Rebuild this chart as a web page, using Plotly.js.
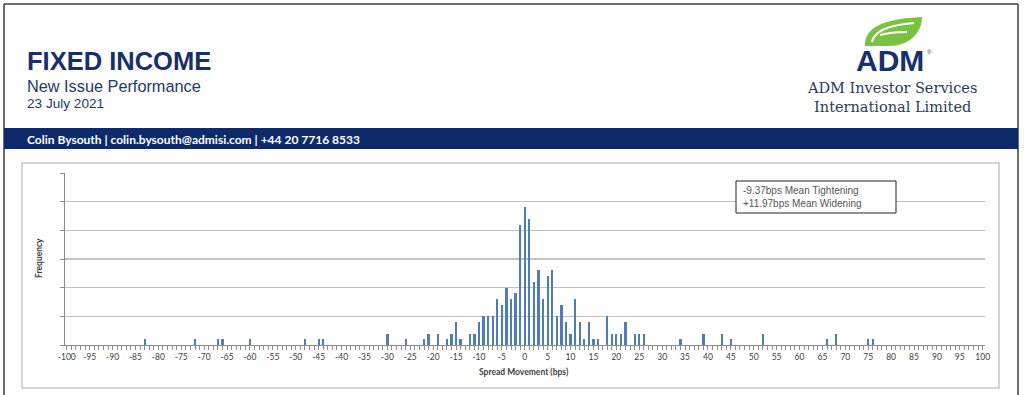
<!DOCTYPE html>
<html>
<head>
<meta charset="utf-8">
<script src="https://cdn.plot.ly/plotly-3.0.1.min.js"></script>
<style>
  html, body { margin: 0; padding: 0; background: #ffffff; }
  #chart { width: 1024px; height: 395px; }
</style>
</head>
<body>
<div id="chart"></div>
<script>
// ---- Data ----
const spreadBps = [-83, -72, -67, -66, -60, -48, -45, -44,
  -30, -26, -22, -21, -19, -17, -16, -15, -14,
  -12, -11, -10, -9, -8, -7, -6, -5, -4, -3, -2, -1,
  0, 1, 2, 3, 4, 5, 6, 7, 8, 9, 10,
  11, 12, 13, 14, 15, 16,
  18, 19, 20, 21, 22,
  24, 25, 26,
  34, 39, 43, 45, 52,
  66, 68, 75, 76];
const frequency = [1, 1, 1, 1, 1, 1, 1, 1,
  2, 1, 1, 2, 2, 1, 2, 4, 1,
  2, 2, 4, 5, 5, 5, 8, 7, 10, 8, 9, 21,
  24, 22, 11, 13, 8, 12, 13, 5, 7, 4, 2,
  8, 4, 1, 4, 1, 1,
  5, 2, 2, 2, 4,
  2, 2, 2,
  1, 2, 2, 1, 2,
  1, 2, 1, 1];
const xTickValues = [-100, -95, -90, -85, -80, -75, -70, -65, -60, -55, -50, -45, -40, -35, -30, -25, -20, -15, -10, -5,
  0, 5, 10, 15, 20, 25, 30, 35, 40, 45, 50, 55, 60, 65, 70, 75, 80, 85, 90, 95, 100];
const xTickLabels = ["-100", "-95", "-90", "-85", "-80", "-75", "-70", "-65", "-60", "-55", "-50", "-45", "-40", "-35", "-30", "-25", "-20", "-15", "-10", "-5",
  "0", "5", "10", "15", "20", "25", "30", "35", "40", "45", "50", "55", "60", "65", "70", "75", "80", "85", "90", "95", "100"];
const yGridValues = [0, 5, 10, 15, 20, 25, 30];
const statLines = ["-9.37bps Mean Tightening", "+11.97bps Mean Widening"];
const titleText = "FIXED INCOME";
const subtitleText = "New Issue Performance";
const dateText = "23 July 2021";
const contactText = "Colin Bysouth | colin.bysouth@admisi.com | +44 20 7716 8533";
const brandText = "ADM";
const companyLines = ["ADM Investor Services", "International Limited"];
const xAxisTitle = "Spread Movement (bps)";
const yAxisTitle = "Frequency";

// ---- pixel -> paper helpers (margins are zero, so paper == whole figure) ----
const W = 1024, H = 395;
const px = x => x / W;
const py = y => 1 - y / H;
const P = s => s.replace(/(-?\d+\.?\d*),(-?\d+\.?\d*)/g, (m, a, b) => px(+a).toFixed(5) + ',' + py(+b).toFixed(5));

const navy = '#17306b';
const axisGray = '#8c8c8c';
const textGray = '#404040';

const trace = {
  type: 'bar',
  x: spreadBps,
  y: frequency,
  width: 0.5,
  marker: { color: '#4f7db8', line: { width: 0 } },
  hoverinfo: 'x+y'
};

const layout = {
  width: W, height: H,
  margin: { l: 0, r: 0, t: 0, b: 0, pad: 0 },
  paper_bgcolor: '#ffffff',
  plot_bgcolor: 'rgba(0,0,0,0)',
  showlegend: false,
  bargap: 0,
  xaxis: {
    domain: [px(64.5), px(985)],
    range: [-100.5, 100.5],
    tickmode: 'array',
    tickvals: xTickValues,
    ticktext: xTickLabels,
    tickfont: { family: 'Lato, "Liberation Sans", sans-serif', size: 8.5, color: textGray },
    ticks: 'outside', ticklen: 4, tickwidth: 1, tickcolor: axisGray,
    minor: { dtick: 1, tick0: 0, ticks: 'outside', ticklen: 4, tickwidth: 1, tickcolor: axisGray, showgrid: false },
    showline: true, linecolor: axisGray, linewidth: 1,
    showgrid: false, zeroline: false, fixedrange: true
  },
  yaxis: {
    domain: [py(345), py(173)],
    range: [0, 30],
    tickmode: 'array',
    tickvals: yGridValues,
    showticklabels: false,
    ticks: 'outside', ticklen: 4, tickwidth: 1, tickcolor: axisGray,
    showline: true, linecolor: axisGray, linewidth: 1,
    showgrid: true, gridcolor: '#c2c2c2', gridwidth: 1.4,
    zeroline: false, fixedrange: true
  },
  shapes: [
    // outer frame
    { type: 'line', xref: 'paper', yref: 'paper', x0: px(4), x1: px(4), y0: py(4), y1: py(395), line: { color: '#3c3c3c', width: 1.5 }, layer: 'below' },
    { type: 'line', xref: 'paper', yref: 'paper', x0: px(4), x1: px(1018), y0: py(4), y1: py(4), line: { color: '#3c3c3c', width: 1.5 }, layer: 'below' },
    { type: 'line', xref: 'paper', yref: 'paper', x0: px(1018), x1: px(1018), y0: py(4), y1: py(395), line: { color: '#3c3c3c', width: 1.5 }, layer: 'below' },
    // contact banner
    { type: 'rect', xref: 'paper', yref: 'paper', x0: px(4), x1: px(1018), y0: py(149), y1: py(128), fillcolor: '#0e2a6b', line: { width: 0 }, layer: 'below' },
    // chart box
    { type: 'rect', xref: 'paper', yref: 'paper', x0: px(22), x1: px(999), y0: py(388), y1: py(163), fillcolor: 'rgba(0,0,0,0)', line: { color: '#c6c6c6', width: 1.5 }, layer: 'below' },
    // stats box
    { type: 'rect', xref: 'paper', yref: 'paper', x0: px(736), x1: px(896), y0: py(213), y1: py(181), fillcolor: '#ffffff', line: { color: '#222222', width: 1 }, layer: 'above' },
    // leaf logo
    { type: 'path', xref: 'paper', yref: 'paper', path: P('M865,46 C864,28 882,19 922,17 C922,34 908,46 889,46 Z'), fillcolor: '#7cc242', line: { width: 0 }, layer: 'above' },
    { type: 'path', xref: 'paper', yref: 'paper', path: P('M872,42 C874,31 889,25 914,23'), fillcolor: 'rgba(0,0,0,0)', line: { color: '#ffffff', width: 2.2 }, layer: 'above' },
    { type: 'path', xref: 'paper', yref: 'paper', path: P('M880,35 C887,33 897,32 907,32'), fillcolor: 'rgba(0,0,0,0)', line: { color: '#ffffff', width: 2.2 }, layer: 'above' }
  ],
  annotations: [
    { xref: 'paper', yref: 'paper', x: px(25), y: py(61), xanchor: 'left', yanchor: 'middle', showarrow: false,
      text: '<b>' + titleText + '</b>', font: { family: 'Liberation Sans, Arial, sans-serif', size: 25.5, color: navy } },
    { xref: 'paper', yref: 'paper', x: px(25), y: py(86), xanchor: 'left', yanchor: 'middle', showarrow: false,
      text: subtitleText, font: { family: 'Liberation Sans, Arial, sans-serif', size: 16.3, color: '#22396a' } },
    { xref: 'paper', yref: 'paper', x: px(25), y: py(103), xanchor: 'left', yanchor: 'middle', showarrow: false,
      text: dateText, font: { family: 'Liberation Sans, Arial, sans-serif', size: 13.6, color: '#22396a' } },
    { xref: 'paper', yref: 'paper', x: px(25), y: py(139), xanchor: 'left', yanchor: 'middle', showarrow: false,
      text: '<b>' + contactText + '</b>', font: { family: 'Lato, "Open Sans", sans-serif', size: 12, color: '#ffffff' } },
    { xref: 'paper', yref: 'paper', x: px(890), y: py(61), xanchor: 'center', yanchor: 'middle', showarrow: false,
      text: '<b>' + brandText + '</b>', font: { family: 'Liberation Sans, Arial, sans-serif', size: 30, color: navy } },
    { xref: 'paper', yref: 'paper', x: px(929), y: py(52), xanchor: 'center', yanchor: 'middle', showarrow: false,
      text: '®', font: { family: 'Liberation Sans, Arial, sans-serif', size: 6, color: navy } },
    { xref: 'paper', yref: 'paper', x: px(892), y: py(97.5), xanchor: 'center', yanchor: 'middle', showarrow: false, align: 'center',
      text: companyLines.join('<br>'), font: { family: '"DejaVu Serif", serif', size: 14.5, color: '#2a3a5c' } },
    { xref: 'paper', yref: 'paper', x: px(741), y: py(197), xanchor: 'left', yanchor: 'middle', showarrow: false, align: 'left',
      text: statLines.join('<br>'), font: { family: 'Liberation Sans, Arial, sans-serif', size: 10, color: '#555555' } },
    { xref: 'paper', yref: 'paper', x: px(524), y: py(372), xanchor: 'center', yanchor: 'middle', showarrow: false,
      text: '<b>' + xAxisTitle + '</b>', font: { family: 'Lato, "Liberation Sans", sans-serif', size: 8.5, color: textGray } },
    { xref: 'paper', yref: 'paper', x: px(39), y: py(258), xanchor: 'center', yanchor: 'middle', showarrow: false, textangle: -90,
      text: '<b>' + yAxisTitle + '</b>', font: { family: 'Lato, "Liberation Sans", sans-serif', size: 8.5, color: textGray } }
  ]
};

Plotly.newPlot('chart', [trace], layout, { staticPlot: true, displayModeBar: false });
</script>
</body>
</html>
